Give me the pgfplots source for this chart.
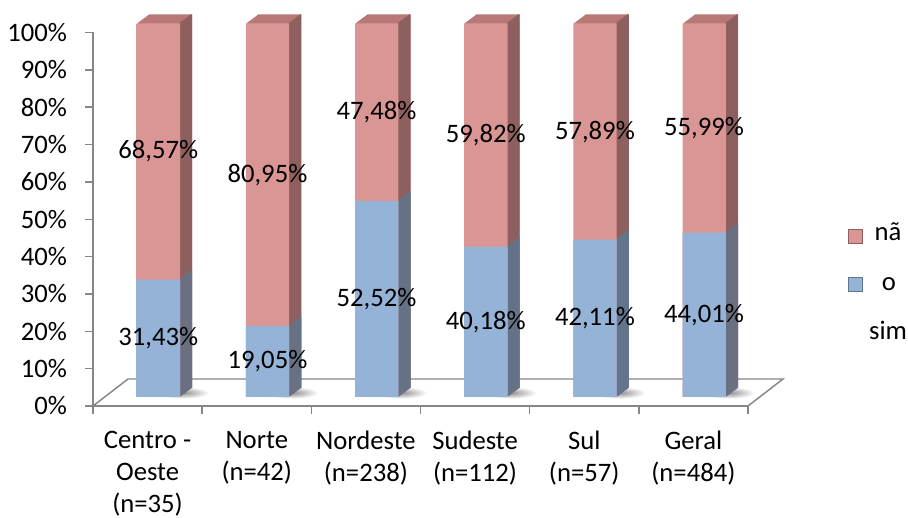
\documentclass[border=0pt]{standalone}
\usepackage{fontspec}
\setmainfont{Carlito}
\usepackage{pgfplots}
\usepackage{pgfplotstable}
\pgfplotsset{compat=1.18}

\definecolor{redfront}{RGB}{217,150,148}
\definecolor{redlight}{RGB}{225,163,161}
\definecolor{redside}{RGB}{141,96,95}
\definecolor{redtop}{RGB}{184,120,119}
\definecolor{bluefront}{RGB}{149,179,215}
\definecolor{bluelight}{RGB}{161,190,223}
\definecolor{blueside}{RGB}{97,117,140}
\definecolor{axisgray}{RGB}{134,134,134}

% shares of "sim" and "nao" answers per region (percent)
\pgfplotstableread{
idx sim nao
0 31.43 68.57
1 19.05 80.95
2 52.52 47.48
3 40.18 59.82
4 42.11 57.89
5 44.01 55.99
}\shares

\newcommand{\labelfont}{\fontsize{20}{24}\selectfont}

\begin{document}
\begin{tikzpicture}[x=0.75pt,y=0.75pt,font=\labelfont]
\useasboundingbox (0,0) rectangle (908,518);

\begin{axis}[
  at={(69.75pt,84pt)}, anchor=south west,
  scale only axis, width=491.25pt, height=280.125pt,
  xmin=0, xmax=6, ymin=0, ymax=100,
  enlargelimits=false, clip=false, axis on top,
  axis x line*=bottom, axis y line*=left,
  axis line style={draw=axisgray, line width=1.1pt},
  tick style={draw=axisgray, line width=1.1pt},
  tick align=outside, major tick length=6pt,
  ytick={0,10,...,100},
  yticklabels={0\%,10\%,20\%,30\%,40\%,50\%,60\%,70\%,80\%,90\%,100\%},
  xtick={0.5,1.5,...,5.5},
  xticklabels={{Centro -\\Oeste\\(n=35)},{Norte\\(n=42)},{Nordeste\\(n=238)},{Sudeste\\(n=112)},{Sul\\(n=57)},{Geral\\(n=484)}},
  major x tick style={draw=none},
  minor xtick={0,1,...,6},
  minor x tick style={draw=axisgray, line width=1.1pt},
  minor tick length=6pt,
  xticklabel style={align=center, font=\labelfont, anchor=north, yshift=-9.5pt},
  yticklabel style={font=\labelfont, anchor=east, xshift=-10pt},
]

% floor
\filldraw[fill=white, draw=axisgray, line width=1.1pt]
  (axis cs:0,0) -- (axis cs:6,0)
  -- ([shift={(26.25pt,20.25pt)}]axis cs:6,0)
  -- ([shift={(26.25pt,20.25pt)}]axis cs:0,0) -- cycle;

% soft shadows of the columns on the floor
\pgfplotsinvokeforeach{0,...,5}{
  \shade[inner color=black!45, outer color=white]
    ([shift={(26pt,10pt)}]axis cs:#1+0.5,0) ellipse [x radius=20pt, y radius=4.5pt];
}

% top faces: extruded copies of the whole column
\pgfplotsinvokeforeach{1,...,12}{
  \addplot[ybar, bar width=32.5pt, bar shift={8.1pt+#1*0.75pt},
    yshift={6.75pt+#1*0.5625pt}, fill=redtop, draw=none]
    table[x expr=\thisrow{idx}+0.5, y expr=\thisrow{sim}+\thisrow{nao}] {\shares};
}

% side faces: thin strips along the right edge
\pgfplotsinvokeforeach{1,...,12}{
  \addplot[ybar, bar width=1.3pt, bar shift={23.8pt+#1*0.75pt},
    yshift={6.75pt+#1*0.5625pt}, fill=redside, draw=none]
    table[x expr=\thisrow{idx}+0.5, y expr=\thisrow{sim}+\thisrow{nao}] {\shares};
  \addplot[ybar, bar width=1.3pt, bar shift={23.8pt+#1*0.75pt},
    yshift={6.75pt+#1*0.5625pt}, fill=blueside, draw=none]
    table[x expr=\thisrow{idx}+0.5, y=sim] {\shares};
}

% front faces
\addplot[ybar, bar width=32.5pt, bar shift=8.1pt, yshift=6.75pt, draw=none,
  left color=redfront, middle color=redlight, right color=redfront]
  table[x expr=\thisrow{idx}+0.5, y expr=\thisrow{sim}+\thisrow{nao}] {\shares};
\addplot[ybar, bar width=32.5pt, bar shift=8.1pt, yshift=6.75pt, draw=none,
  left color=bluefront, middle color=bluelight, right color=bluefront]
  table[x expr=\thisrow{idx}+0.5, y=sim] {\shares};

% value labels, centred in each segment
\addplot[draw=none, yshift=6.75pt, point meta=\thisrow{sim},
  nodes near coords={\pgfmathprintnumber[fixed, fixed zerofill, precision=2, use comma, assume math mode=true]{\pgfplotspointmeta}\%},
  every node near coord/.append style={anchor=center, xshift=8pt, font=\labelfont, text=black}]
  table[x expr=\thisrow{idx}+0.5, y expr=\thisrow{sim}/2] {\shares};
\addplot[draw=none, yshift=6.75pt, point meta=\thisrow{nao},
  nodes near coords={\pgfmathprintnumber[fixed, fixed zerofill, precision=2, use comma, assume math mode=true]{\pgfplotspointmeta}\%},
  every node near coord/.append style={anchor=center, xshift=8pt, font=\labelfont, text=black}]
  table[x expr=\thisrow{idx}+0.5, y expr=\thisrow{sim}+\thisrow{nao}/2] {\shares};
\end{axis}

% legend
\filldraw[fill=redfront, draw=redside, line width=0.6pt] (848,275) rectangle (862,289);
\node[anchor=center] at (888,286) {nã};
\filldraw[fill=bluefront, draw=blueside, line width=0.6pt] (848,227) rectangle (862,241);
\node[anchor=center] at (889,234) {o};
\node[anchor=center] at (888,188) {sim};
\end{tikzpicture}
\end{document}
